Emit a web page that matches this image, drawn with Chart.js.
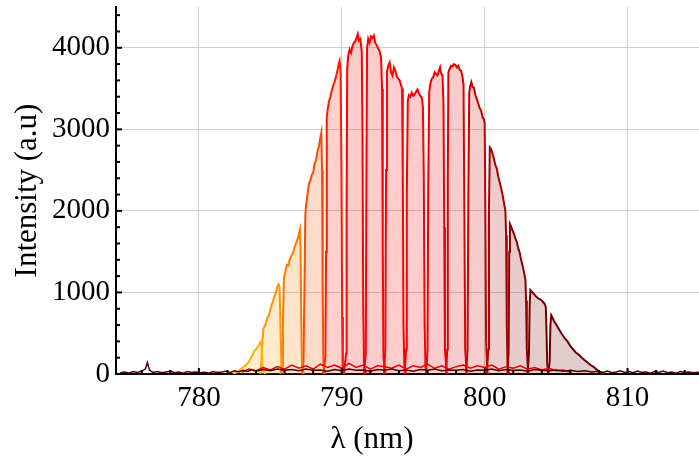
<!DOCTYPE html>
<html>
<head>
<meta charset="utf-8">
<script src="https://cdn.jsdelivr.net/npm/chart.js@4.4.1/dist/chart.umd.min.js"></script>
<style>
  html, body { margin: 0; padding: 0; background: #fff; }
  #wrap { width: 699px; height: 461px; position: relative; }
</style>
</head>
<body>
<div id="wrap"><canvas id="myChart" width="699" height="461"></canvas></div>
<script>
// axis ticks
const xTickValues = [776, 778, 780, 782, 784, 786, 788, 790, 792, 794, 796, 798, 800, 802, 804, 806, 808, 810, 812, 814];
const xTickLabels = [780, 790, 800, 810];
const yTickValues = [0, 200, 400, 600, 800, 1000, 1200, 1400, 1600, 1800, 2000, 2200, 2400, 2600, 2800, 3000, 3200, 3400, 3600, 3800, 4000, 4200, 4400];
const yTickLabels = [0, 1000, 2000, 3000, 4000];

// [wavelength nm, intensity] for each filtered band, left to right
const bandA = [[782.4,0],[782.7,30],[783.0,70],[783.2,95],[783.35,120],[783.5,150],[783.6,185],[783.75,230],[783.9,290],[784.0,300],[784.1,330],[784.2,350],[784.3,395],[784.38,380],[784.45,100],[784.55,20],[784.7,0]];
const bandB = [[784.3,0],[784.38,150],[784.45,420],[784.52,560],[784.65,600],[784.8,690],[784.9,720],[785.0,790],[785.1,850],[785.2,900],[785.3,960],[785.4,1010],[785.5,1080],[785.58,1100],[785.65,1060],[785.72,500],[785.78,80],[785.9,20],[786.0,0]];
const bandC = [[785.7,0],[785.82,100],[785.88,600],[785.95,1180],[786.05,1250],[786.15,1340],[786.25,1330],[786.35,1400],[786.5,1460],[786.6,1490],[786.7,1560],[786.8,1600],[786.9,1650],[787.0,1720],[787.07,1770],[787.12,1500],[787.17,600],[787.22,80],[787.35,0]];
const bandD = [[787.2,0],[787.32,150],[787.38,900],[787.45,1950],[787.5,2070],[787.6,2200],[787.7,2330],[787.8,2370],[787.9,2440],[788.0,2470],[788.1,2580],[788.2,2620],[788.3,2730],[788.4,2790],[788.5,2900],[788.57,2960],[788.62,2500],[788.67,900],[788.72,100],[788.85,0]];
const bandE = [[788.7,0],[788.85,200],[788.9,1500],[788.95,3150],[789.02,3250],[789.1,3340],[789.2,3400],[789.3,3470],[789.4,3540],[789.5,3580],[789.6,3650],[789.7,3720],[789.78,3800],[789.85,3840],[789.92,3700],[789.98,2500],[790.03,700],[790.08,100],[790.2,0]];
const bandF = [[790.15,0],[790.3,250],[790.34,2000],[790.38,3750],[790.45,3900],[790.55,3980],[790.65,3940],[790.75,4020],[790.85,4060],[790.95,4080],[791.05,4130],[791.12,4170],[791.2,4090],[791.3,4110],[791.4,3950],[791.45,3000],[791.5,900],[791.56,100],[791.7,0]];
const bandG = [[791.55,0],[791.68,250],[791.72,2200],[791.77,4000],[791.85,4110],[791.95,4060],[792.05,4140],[792.15,4120],[792.25,4150],[792.35,4060],[792.45,4030],[792.55,3990],[792.65,3960],[792.75,3880],[792.82,3500],[792.87,1500],[792.92,200],[793.05,0]];
const bandH = [[792.95,0],[793.05,300],[793.1,2500],[793.16,3700],[793.25,3780],[793.35,3820],[793.45,3700],[793.55,3660],[793.65,3760],[793.75,3720],[793.85,3650],[793.95,3620],[794.05,3600],[794.15,3540],[794.22,3500],[794.27,2500],[794.32,600],[794.38,80],[794.5,0]];
const bandI = [[794.4,0],[794.5,300],[794.55,2200],[794.62,3350],[794.7,3420],[794.8,3400],[794.9,3450],[795.0,3410],[795.1,3430],[795.2,3460],[795.3,3490],[795.4,3440],[795.5,3410],[795.6,3390],[795.68,3270],[795.74,2400],[795.8,600],[795.86,80],[796.0,0]];
const bandJ = [[795.9,0],[796.0,300],[796.05,2300],[796.12,3450],[796.2,3560],[796.3,3620],[796.4,3640],[796.5,3700],[796.6,3680],[796.7,3660],[796.8,3720],[796.88,3760],[796.95,3690],[797.05,3660],[797.12,3300],[797.17,1800],[797.22,300],[797.35,0]];
const bandK = [[797.3,0],[797.38,300],[797.42,2400],[797.46,3700],[797.55,3740],[797.65,3780],[797.75,3770],[797.85,3800],[797.95,3790],[798.05,3760],[798.15,3780],[798.25,3730],[798.35,3720],[798.45,3640],[798.52,3550],[798.58,2000],[798.64,300],[798.75,0]];
const bandL = [[798.7,0],[798.8,300],[798.86,2200],[798.92,3450],[799.0,3540],[799.07,3580],[799.15,3520],[799.25,3510],[799.35,3420],[799.45,3370],[799.55,3320],[799.65,3260],[799.75,3230],[799.85,3150],[799.95,3120],[800.0,3080],[800.05,2000],[800.1,400],[800.2,0]];
const bandM = [[800.15,0],[800.25,300],[800.3,2000],[800.36,2780],[800.45,2760],[800.55,2700],[800.65,2640],[800.75,2560],[800.85,2520],[800.95,2420],[801.05,2350],[801.15,2280],[801.25,2200],[801.35,2100],[801.45,2000],[801.5,1700],[801.55,600],[801.6,100],[801.7,0]];
const bandN = [[801.6,0],[801.68,300],[801.72,1500],[801.77,1840],[801.85,1810],[801.95,1760],[802.05,1720],[802.15,1660],[802.25,1620],[802.35,1540],[802.45,1490],[802.55,1400],[802.65,1330],[802.75,1250],[802.85,1160],[802.9,900],[802.95,300],[803.05,0]];
const bandO = [[803.0,0],[803.1,250],[803.15,850],[803.2,1030],[803.3,1010],[803.4,990],[803.5,970],[803.6,950],[803.7,935],[803.8,920],[803.9,915],[804.0,900],[804.1,880],[804.2,860],[804.28,820],[804.33,500],[804.38,120],[804.45,0]];
const bandP = [[804.45,0],[804.55,150],[804.6,600],[804.66,720],[804.75,690],[804.85,650],[805.0,610],[805.2,550],[805.4,490],[805.6,440],[805.8,400],[806.0,340],[806.2,300],[806.4,260],[806.6,235],[806.8,200],[807.0,170],[807.2,140],[807.4,110],[807.6,90],[807.8,60],[808.0,30],[808.2,10],[808.35,0]];

// background noise along the baseline
const darkNoise = [[774.5,15],[774.8,25],[775.1,10],[775.4,30],[775.7,20],[776.0,35],[776.25,60],[776.4,140],[776.55,45],[776.8,20],[777.1,30],[777.4,15],[777.7,25],[778.0,35],[778.3,15],[778.6,25],[778.9,10],[779.2,30],[779.5,20],[779.8,25],[780.1,15],[780.4,20],[780.7,10],[781.0,30],[781.3,20],[781.6,25],[781.9,35],[782.2,20],[782.5,40],[782.8,25],[783.1,45],[783.4,30],[783.7,50],[784.0,35],[784.5,55],[785.0,40],[785.5,60],[786.0,45],[786.5,55],[787.0,40],[787.5,60],[788.0,45],[788.5,50],[789.0,35],[789.5,55],[790.0,40],[790.5,60],[791.0,45],[791.5,50],[792.0,35],[792.5,55],[793.0,45],[793.5,60],[794.0,40],[794.5,50],[795.0,35],[795.5,55],[796.0,45],[796.5,60],[797.0,40],[797.5,50],[798.0,45],[798.5,55],[799.0,35],[799.5,50],[800.0,45],[800.5,60],[801.0,40],[801.5,55],[802.0,45],[802.5,50],[803.0,35],[803.5,55],[804.0,45],[804.5,40],[805.0,50],[805.5,35],[806.0,45],[806.5,30],[807.0,40],[807.5,25],[808.0,35],[808.3,20],[808.6,35],[808.9,15],[809.2,25],[809.5,40],[809.8,20],[810.1,30],[810.4,15],[810.7,35],[811.0,20],[811.3,25],[811.6,10],[811.9,30],[812.2,20],[812.5,35],[812.8,15],[813.1,25],[813.4,10],[813.7,30],[814.0,20],[814.3,25],[814.6,15],[815.0,20]];
const redNoise = [[783.0,20],[783.5,60],[784.0,40],[784.5,80],[785.0,50],[785.5,90],[786.0,60],[786.5,110],[787.0,70],[787.5,100],[788.0,60],[788.5,120],[789.0,80],[789.5,110],[790.0,70],[790.5,130],[791.0,80],[791.5,110],[792.0,60],[792.5,100],[793.0,90],[793.5,70],[794.0,110],[794.5,60],[795.0,100],[795.5,80],[796.0,120],[796.5,70],[797.0,100],[797.5,60],[798.0,90],[798.5,110],[799.0,70],[799.5,100],[800.0,80],[800.5,110],[801.0,60],[801.5,90],[802.0,70],[802.5,100],[803.0,60],[803.5,80],[804.0,50],[804.5,70],[805.0,40],[805.5,50],[806.0,20]];

const bands = [bandA, bandB, bandC, bandD, bandE, bandF, bandG, bandH, bandI, bandJ, bandK, bandL, bandM, bandN, bandO, bandP];
const bandColors = [
  [255, 176, 0], [255, 150, 0], [255, 120, 0], [255, 75, 0],
  [255, 25, 0], [255, 0, 0], [255, 0, 0], [255, 0, 0],
  [250, 0, 0], [240, 0, 0], [222, 0, 0], [200, 0, 0],
  [168, 0, 0], [139, 0, 0], [122, 0, 0], [107, 0, 0],
];

const toPoints = (arr) => arr.map(([x, y]) => ({ x, y }));
const rgba = (c, a) => `rgba(${c[0]}, ${c[1]}, ${c[2]}, ${a})`;

const datasets = bands.map((band, i) => ({
  data: toPoints(band),
  borderColor: rgba(bandColors[i], 1),
  backgroundColor: rgba(bandColors[i], 0.2),
  borderWidth: 2,
  fill: "origin",
  order: 2,
}));
datasets.push({
  data: toPoints(redNoise),
  borderColor: "rgba(230, 0, 0, 1)",
  borderWidth: 1.5,
  fill: false,
  order: 1,
});
datasets.push({
  data: toPoints(darkNoise),
  borderColor: "rgba(80, 0, 0, 1)",
  borderWidth: 1.5,
  fill: false,
  order: 0,
});

const serif = "'Liberation Serif', 'DejaVu Serif', serif";

// small ticks drawn inside the frame, plus the x title (sits left of centre in the original)
const innerTicks = {
  id: "innerTicks",
  afterDraw(chart) {
    const { ctx, chartArea, scales } = chart;
    ctx.save();
    ctx.strokeStyle = "#000";
    ctx.lineWidth = 2;
    yTickValues.forEach((v) => {
      const y = scales.y.getPixelForValue(v);
      const len = yTickLabels.includes(v) ? 6 : 4;
      ctx.beginPath();
      ctx.moveTo(chartArea.left, y);
      ctx.lineTo(chartArea.left + len, y);
      ctx.stroke();
    });
    xTickValues.forEach((v) => {
      const x = scales.x.getPixelForValue(v);
      const len = xTickLabels.includes(v) ? 6 : 4;
      ctx.beginPath();
      ctx.moveTo(x, chartArea.bottom);
      ctx.lineTo(x, chartArea.bottom - len);
      ctx.stroke();
    });
    ctx.fillStyle = "#000";
    ctx.font = `31px ${serif}`;
    ctx.textAlign = "center";
    ctx.textBaseline = "alphabetic";
    ctx.fillText("λ (nm)", 372, 448);
    ctx.restore();
  },
};

new Chart(document.getElementById("myChart"), {
  type: "line",
  data: { datasets },
  plugins: [innerTicks],
  options: {
    responsive: false,
    animation: false,
    devicePixelRatio: 1,
    layout: { padding: { top: 7, right: 0, bottom: 0, left: 0 } },
    elements: { point: { radius: 0 }, line: { tension: 0 } },
    plugins: { legend: { display: false }, tooltip: { enabled: false } },
    scales: {
      x: {
        type: "linear",
        min: 774.2,
        max: 815,
        afterBuildTicks: (scale) => {
          scale.ticks = xTickValues.map((value) => ({ value }));
        },
        afterFit: (scale) => {
          scale.height = 87;
        },
        ticks: {
          autoSkip: false,
          maxRotation: 0,
          padding: 7,
          color: "#000",
          font: { family: serif, size: 29 },
          callback: (v) => (xTickLabels.includes(v) ? String(v) : undefined),
        },
        grid: {
          drawTicks: false,
          color: (c) => (c.tick && xTickLabels.includes(c.tick.value) ? "#d0d0d0" : "rgba(0,0,0,0)"),
        },
        border: { color: "#000", width: 2 },
      },
      y: {
        min: 0,
        max: 4500,
        afterBuildTicks: (scale) => {
          scale.ticks = yTickValues.map((value) => ({ value }));
        },
        afterFit: (scale) => {
          scale.width = 116;
        },
        ticks: {
          autoSkip: false,
          padding: 6,
          color: "#000",
          // tiny line height keeps the label box from pushing the plot top down
          font: { family: serif, size: 29, lineHeight: 0.05 },
          callback: (v) => (yTickLabels.includes(v) ? String(v) : undefined),
        },
        grid: {
          drawTicks: false,
          color: (c) => (c.tick && yTickLabels.includes(c.tick.value) && c.tick.value !== 0 ? "#d0d0d0" : "rgba(0,0,0,0)"),
        },
        border: { color: "#000", width: 2 },
        title: {
          display: true,
          text: "Intensity (a.u)",
          color: "#000",
          font: { family: serif, size: 31 },
          padding: { top: 9, bottom: 0 },
        },
      },
    },
  },
});
</script>
</body>
</html>
